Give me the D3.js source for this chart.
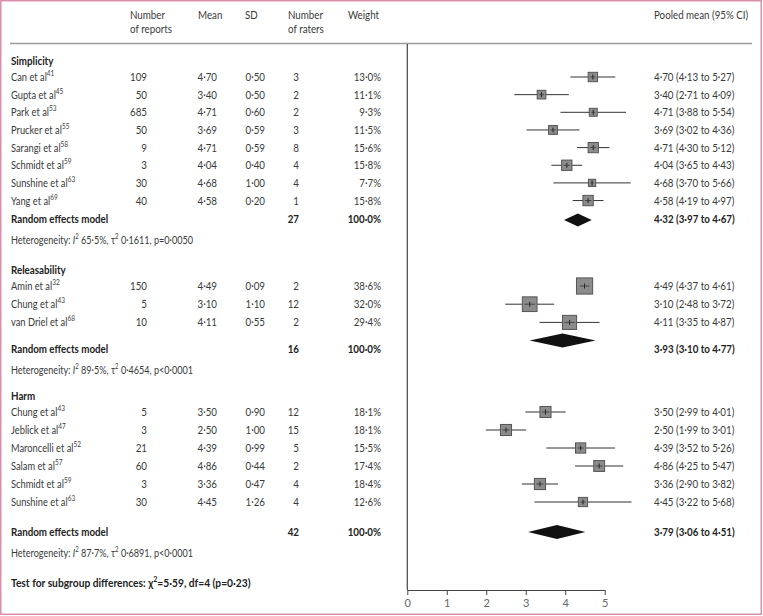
<!DOCTYPE html>
<html><head><meta charset="utf-8">
<script src="https://cdn.jsdelivr.net/npm/d3@7/dist/d3.min.js"></script>
<style>
html,body{margin:0;padding:0;background:#fff;}
svg{display:block;font-family:Lato,"Open Sans",sans-serif;}
</style></head><body>
<script>
// ---------------- DATA ----------------
const groups = ["Simplicity", "Releasability", "Harm"];
const studyGroup = [0,0,0,0,0,0,0,0, 1,1,1, 2,2,2,2,2,2];
const studyNames = ["Can et al","Gupta et al","Park et al","Prucker et al","Sarangi et al","Schmidt et al","Sunshine et al","Yang et al",
  "Amin et al","Chung et al","van Driel et al",
  "Chung et al","Jeblick et al","Maroncelli et al","Salam et al","Schmidt et al","Sunshine et al"];
const studyRefs = ["41","45","53","55","58","59","63","69", "32","43","68", "43","47","52","57","59","63"];
const reports = [109,50,685,50,9,3,30,40, 150,5,10, 5,3,21,60,3,30];
const means = [4.70,3.40,4.71,3.69,4.71,4.04,4.68,4.58, 4.49,3.10,4.11, 3.50,2.50,4.39,4.86,3.36,4.45];
const sds = [0.50,0.50,0.60,0.59,0.59,0.40,1.00,0.20, 0.09,1.10,0.55, 0.90,1.00,0.99,0.44,0.47,1.26];
const raters = [3,2,2,3,8,4,4,1, 2,12,2, 12,15,5,2,4,4];
const weights = [13.0,11.1,9.3,11.5,15.6,15.8,7.7,15.8, 38.6,32.0,29.4, 18.1,18.1,15.5,17.4,18.4,12.6];
const ciLow = [4.13,2.71,3.88,3.02,4.30,3.65,3.70,4.19, 4.37,2.48,3.35, 2.99,1.99,3.52,4.25,2.90,3.22];
const ciHigh = [5.27,4.09,5.54,4.36,5.12,4.43,5.66,4.97, 4.61,3.72,4.87, 4.01,3.01,5.26,5.47,3.82,5.68];

const pooledMean = [4.32, 3.93, 3.79];
const pooledLow = [3.97, 3.10, 3.06];
const pooledHigh = [4.67, 4.77, 4.51];
const pooledRaters = [27, 16, 42];
const pooledWeight = [100.0, 100.0, 100.0];
const hetI2 = [65.5, 89.5, 87.7];
const hetTau2 = [0.1611, 0.4654, 0.6891];
const hetP = ["p=0·0050", "p<0·0001", "p<0·0001"];
const subgroupTest = {chi2: 5.59, df: 4, p: 0.23};
const xTicks = [0, 1, 2, 3, 4, 5];

// ---------------- LAYOUT ----------------
const W = 763, H = 616;
const txt = "#3a3a3a";
const svg = d3.select("body").append("svg").attr("width", W).attr("height", H);

// pink frame
svg.append("rect").attr("x", 0.75).attr("y", 0.75).attr("width", W - 2.5).attr("height", H - 2.5)
  .attr("fill", "none").attr("stroke", "#d98fab").attr("stroke-width", 1.5);

const x = d3.scaleLinear().domain([0, 5]).range([407.3, 604.7]);

const groupHeaderY = [61, 270, 396];
const studyStep = [17.65, 18.2, 18];
const remGap = [18.5, 27, 30];
const diamondShift = [1, -9, 0];
const rowY = new Array(studyNames.length);
const remY = [], hetY = [];
groups.forEach((g, gi) => {
  const idx = d3.range(studyNames.length).filter(i => studyGroup[i] === gi);
  const ys = d3.scaleLinear().domain([0, 1]).range([groupHeaderY[gi] + 16, groupHeaderY[gi] + 16 + studyStep[gi]]);
  idx.forEach((i, k) => rowY[i] = ys(k));
  remY[gi] = ys(idx.length - 1) + remGap[gi];
  hetY[gi] = remY[gi] + 20.5;
});
const testY = 583;

const fmt2 = v => d3.format(".2f")(v).replace(".", "·");
const fmt1 = v => d3.format(".1f")(v).replace(".", "·");
const fmt4 = v => d3.format(".4f")(v).replace(".", "·");

const col = {label: 11, reports: 147, mean: 217, sd: 265, raters: 299, weight: 381, ci: 654};
const fs = 11.5;
const SX = 0.85;

// condensed text helper: group translated and horizontally squeezed
function tg(xp, yp, opts = {}) {
  const g = svg.append("g").attr("transform", `translate(${xp},${yp + 4}) scale(${opts.sx || SX},1)`);
  return g.append("text").attr("x", 0).attr("y", 0)
    .attr("font-size", opts.size || fs).attr("fill", opts.fill || txt)
    .attr("font-weight", opts.bold ? 700 : 400)
    .attr("text-anchor", opts.anchor || "start");
}
function t(xp, yp, s, opts = {}) { return tg(xp, yp, opts).text(s); }

// header
[["Number", "of reports", 130], ["Mean", null, 198], ["SD", null, 245], ["Number", "of raters", 288], ["Weight", null, 348]].forEach(h => {
  t(h[2], 15, h[0]);
  if (h[1]) t(h[2], 28.5, h[1]);
});
t(654, 15, "Pooled mean (95% CI)");
svg.append("line").attr("x1", 10).attr("x2", 752).attr("y1", 43.5).attr("y2", 43.5)
  .attr("stroke", "#9a9a9a").attr("stroke-width", 1.5);

// vertical reference line and axis
svg.append("line").attr("x1", x(0)).attr("x2", x(0)).attr("y1", 44).attr("y2", 590)
  .attr("stroke", "#444").attr("stroke-width", 1.2);
const axis = svg.append("g").attr("transform", "translate(0,590)")
  .call(d3.axisBottom(x).tickValues(xTicks).tickSize(5).tickSizeOuter(0).tickFormat(d3.format("d")));
axis.select(".domain").attr("stroke", "#444").attr("stroke-width", 1.2);
axis.selectAll(".tick line").attr("stroke", "#444");
axis.selectAll(".tick text").attr("font-family", "Lato,sans-serif").attr("font-size", 11).attr("fill", "#666").attr("dy", "0.85em");

// groups
groups.forEach((g, gi) => {
  t(col.label, groupHeaderY[gi], g, {bold: true, fill: "#222"});
  t(col.label, remY[gi], "Random effects model", {bold: true, fill: "#222"});
  t(col.raters, remY[gi], pooledRaters[gi], {bold: true, anchor: "end", fill: "#222"});
  t(col.weight, remY[gi], fmt1(pooledWeight[gi]) + "%", {bold: true, anchor: "end", fill: "#222"});
  t(col.ci, remY[gi], `${fmt2(pooledMean[gi])} (${fmt2(pooledLow[gi])} to ${fmt2(pooledHigh[gi])})`, {bold: true, fill: "#222"});
  const het = tg(col.label, hetY[gi], {size: 11.5, sx: 0.79});
  het.append("tspan").text("Heterogeneity: ");
  het.append("tspan").attr("font-style", "italic").text("I");
  het.append("tspan").attr("font-size", 7.5).attr("dy", -4.5).text("2");
  het.append("tspan").attr("dy", 4.5).text(` ${fmt1(hetI2[gi])}%, τ`);
  het.append("tspan").attr("font-size", 7.5).attr("dy", -4.5).text("2");
  het.append("tspan").attr("dy", 4.5).text(` ${fmt4(hetTau2[gi])}, ${hetP[gi]}`);

  const dy = remY[gi] + diamondShift[gi];
  const hh = gi === 0 ? 6.5 : 7;
  svg.append("path")
    .attr("d", `M${x(pooledLow[gi])},${dy} L${x(pooledMean[gi])},${dy - hh} L${x(pooledHigh[gi])},${dy} L${x(pooledMean[gi])},${dy + hh} Z`)
    .attr("fill", "#111");
});

// studies
studyNames.forEach((n, i) => {
  const y = rowY[i];
  const lab = tg(col.label, y, {sx: 0.81});
  lab.append("tspan").text(n);
  lab.append("tspan").attr("font-size", 8).attr("dy", -5).text(studyRefs[i]);
  t(col.reports, y, reports[i], {anchor: "end"});
  t(col.mean, y, fmt2(means[i]), {anchor: "end"});
  t(col.sd, y, fmt2(sds[i]), {anchor: "end"});
  t(col.raters, y, raters[i], {anchor: "end"});
  t(col.weight, y, fmt1(weights[i]) + "%", {anchor: "end"});
  t(col.ci, y, `${fmt2(means[i])} (${fmt2(ciLow[i])} to ${fmt2(ciHigh[i])})`);

  const s = 2.6 * Math.sqrt(weights[i]);
  svg.append("line").attr("x1", x(ciLow[i])).attr("x2", x(ciHigh[i])).attr("y1", y).attr("y2", y)
    .attr("stroke", "#333").attr("stroke-width", 1);
  svg.append("rect").attr("x", x(means[i]) - s / 2).attr("y", y - s / 2).attr("width", s).attr("height", s)
    .attr("fill", "#8c8c8c").attr("stroke", "#555").attr("stroke-width", 1);
  svg.append("line").attr("x1", x(means[i])).attr("x2", x(means[i])).attr("y1", y - 2.5).attr("y2", y + 2.5)
    .attr("stroke", "#222").attr("stroke-width", 1);
  svg.append("line").attr("x1", Math.max(x(ciLow[i]), x(means[i]) - s / 2 + 2)).attr("x2", Math.min(x(ciHigh[i]), x(means[i]) + s / 2 - 2))
    .attr("y1", y).attr("y2", y).attr("stroke", "#333").attr("stroke-width", 0.8);
});

// subgroup test
const tt = tg(col.label, testY, {bold: true, fill: "#222", sx: 0.89});
tt.append("tspan").text("Test for subgroup differences: χ");
tt.append("tspan").attr("font-size", 8).attr("dy", -5).text("2");
tt.append("tspan").attr("dy", 5).text(`=${fmt2(subgroupTest.chi2)}, df=${subgroupTest.df} (p=${fmt2(subgroupTest.p)})`);
</script>
</body></html>
